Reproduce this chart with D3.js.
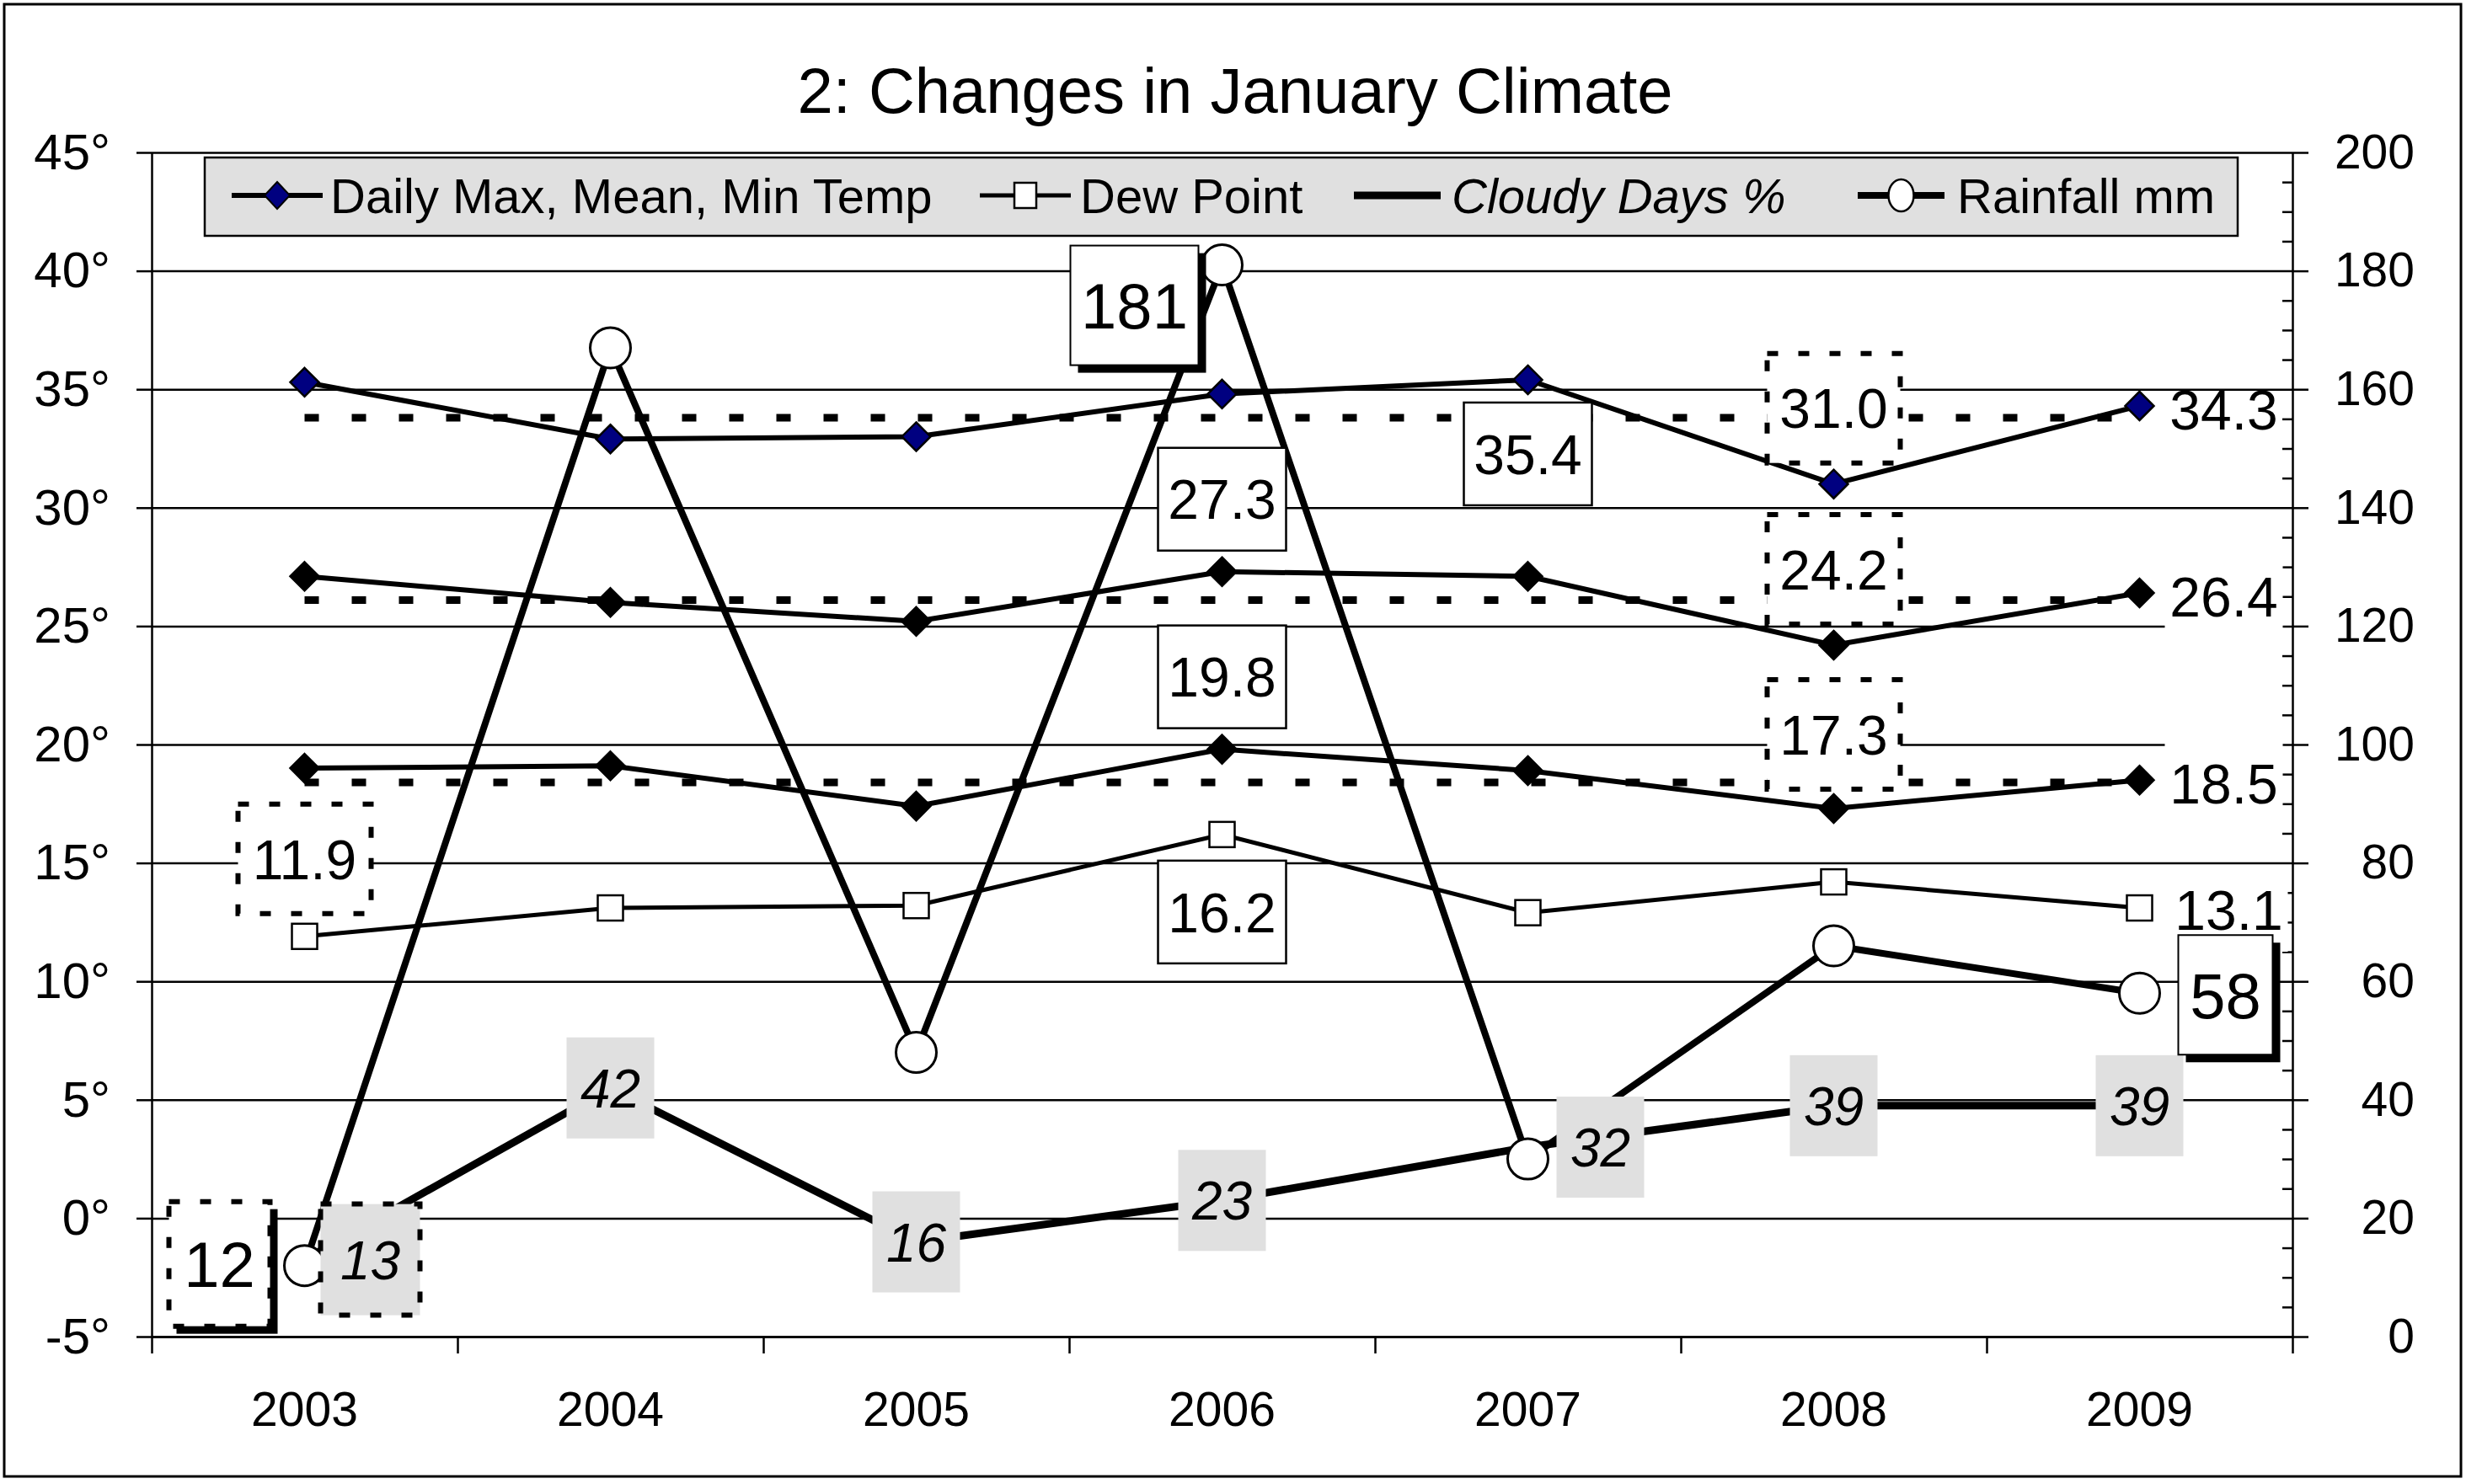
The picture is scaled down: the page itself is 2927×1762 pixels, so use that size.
<!DOCTYPE html>
<html><head><meta charset="utf-8">
<script src="https://cdn.jsdelivr.net/npm/d3@7"></script>
<style>
body{margin:0;background:#fff}
svg{display:block}
text{font-family:"Liberation Sans",Arial,Helvetica,sans-serif}
</style>
</head><body>
<svg id="c" width="2927" height="1762"></svg>
<script>
// ---------------- DATA ----------------
const years = ["2003","2004","2005","2006","2007","2008","2009"];
const maxTemp  = [35.3, 32.9, 33.0, 34.8, 35.4, 31.0, 34.3];
const meanTemp = [27.1, 26.0, 25.2, 27.3, 27.1, 24.2, 26.4];
const minTemp  = [19.0, 19.1, 17.4, 19.8, 18.9, 17.3, 18.5];
const dewPoint = [11.9, 13.1, 13.2, 16.2, 12.9, 14.2, 13.1];
const cloudyDays = [13, 42, 16, 23, 32, 39, 39];
const rainfall   = [12, 167, 48, 181, 30, 66, 58];
const avgMax  = [33.8, 33.8, 33.8, 33.8, 33.8, 33.8, 33.8];
const avgMean = [26.1, 26.1, 26.1, 26.1, 26.1, 26.1, 26.1];
const avgMin  = [18.4, 18.4, 18.4, 18.4, 18.4, 18.4, 18.4];
const leftTicks  = [-5, 0, 5, 10, 15, 20, 25, 30, 35, 40, 45];
const rightTicks = [0, 20, 40, 60, 80, 100, 120, 140, 160, 180, 200];
const rightMinor = [5,10,15,25,30,35,45,50,55,65,70,75,85,90,95,105,110,115,125,130,135,145,150,155,165,170,175,185,190,195];
const titleText = "2: Changes in January Climate";
const legendNames = ["Daily Max, Mean, Min Temp", "Dew Point", "Cloudy Days %", "Rainfall mm"];

// ---------------- LAYOUT ----------------
const FONT = '"Liberation Sans",Arial,Helvetica,sans-serif';
const svg = d3.select("#c");
const P = {left:180, right:2721, top:181, bottom:1587};
const x = d3.scaleBand().domain(years).range([P.left, P.right]);
const cx = i => x(years[i]) + x.bandwidth()/2;
const yL = d3.scaleLinear().domain([-5,45]).range([P.bottom, P.top]);
const yR = d3.scaleLinear().domain([0,200]).range([P.bottom, P.top]);
const xEdge = d3.scaleLinear().domain([0, years.length]).range([P.left, P.right]);

// frame
svg.append("rect").attr("x",5).attr("y",5).attr("width",2916).attr("height",1748)
  .attr("fill","#fff").attr("stroke","#000").attr("stroke-width",3);

// title
svg.append("text").attr("x",1466).attr("y",134).attr("text-anchor","middle")
  .attr("font-size",76).attr("font-family",FONT).text(titleText);

// gridlines
const grid = svg.append("g").attr("transform",`translate(${P.left},0)`)
  .call(d3.axisLeft(yL).tickValues(leftTicks).tickSize(-(P.right-P.left)).tickFormat(""));
grid.select(".domain").remove();
grid.selectAll("line").attr("stroke","#000").attr("stroke-width",2.5);

// left axis
const la = svg.append("g").attr("transform",`translate(${P.left},0)`)
  .call(d3.axisLeft(yL).tickValues(leftTicks).tickSize(18).tickSizeOuter(0).tickPadding(31).tickFormat(d=>d+"°"));
la.selectAll("line,path").attr("stroke","#000").attr("stroke-width",2.5);
la.selectAll("text").attr("font-size",60).attr("font-family",FONT).attr("fill","#000");

// right axis
const ra = svg.append("g").attr("transform",`translate(${P.right},0)`)
  .call(d3.axisRight(yR).tickValues(rightTicks).tickSize(19).tickSizeOuter(0).tickFormat(d3.format("d")));
ra.selectAll("line,path").attr("stroke","#000").attr("stroke-width",2.5);
ra.selectAll("text").attr("font-size",57).attr("font-family",FONT).attr("fill","#000")
  .attr("text-anchor","end").attr("x",145);
const rm = svg.append("g").attr("transform",`translate(${P.right},0)`)
  .call(d3.axisLeft(yR).tickValues(rightMinor).tickSize(12).tickFormat(""));
rm.select(".domain").remove();
rm.selectAll("line").attr("stroke","#000").attr("stroke-width",2.5);

// bottom axis
const bt = svg.append("g").attr("transform",`translate(0,${P.bottom})`)
  .call(d3.axisBottom(xEdge).tickValues(d3.range(years.length+1)).tickSize(20).tickSizeOuter(0).tickFormat(""));
bt.selectAll("line,path").attr("stroke","#000").attr("stroke-width",2.5);
const bl = svg.append("g").attr("transform",`translate(0,${P.bottom})`)
  .call(d3.axisBottom(x).tickSize(0));
bl.select(".domain").remove();
bl.selectAll("text").attr("font-size",57).attr("font-family",FONT).attr("fill","#000")
  .attr("y",106).attr("dy",0);

// ---------------- SERIES ----------------
const lineL = d3.line().x((d,i)=>cx(i)).y(d=>yL(d));
const lineR = d3.line().x((d,i)=>cx(i)).y(d=>yR(d));
const g = svg.append("g");

[avgMax, avgMean, avgMin].forEach(a=>{
  g.append("path").attr("d",lineL(a)).attr("fill","none").attr("stroke","#000")
   .attr("stroke-width",9).attr("stroke-dasharray","17 39");
});

function diamonds(vals, fill, r){
  g.selectAll(null).data(vals).join("path")
   .attr("d",(d,i)=>{const X=cx(i),Y=yL(d);return `M${X},${Y-r}L${X+r},${Y}L${X},${Y+r}L${X-r},${Y}Z`;})
   .attr("fill",fill).attr("stroke","#000").attr("stroke-width",2.5);
}
[maxTemp, meanTemp, minTemp].forEach(s=>{
  g.append("path").attr("d",lineL(s)).attr("fill","none").attr("stroke","#000").attr("stroke-width",6);
});
g.append("path").attr("d",lineL(dewPoint)).attr("fill","none").attr("stroke","#000").attr("stroke-width",5);
g.append("path").attr("d",lineR(cloudyDays)).attr("fill","none").attr("stroke","#000").attr("stroke-width",9);
g.append("path").attr("d",lineR(rainfall)).attr("fill","none").attr("stroke","#000").attr("stroke-width",8);

diamonds(maxTemp, "#000080", 17);
diamonds(meanTemp, "#000", 17);
diamonds(minTemp, "#000", 17);
g.selectAll(null).data(dewPoint).join("rect")
  .attr("x",(d,i)=>cx(i)-15).attr("y",d=>yL(d)-15).attr("width",30).attr("height",30)
  .attr("fill","#fff").attr("stroke","#000").attr("stroke-width",2.5);
g.selectAll(null).data(rainfall).join("circle")
  .attr("cx",(d,i)=>cx(i)).attr("cy",d=>yR(d)).attr("r",24)
  .attr("fill","#fff").attr("stroke","#000").attr("stroke-width",3);

// ---------------- LABELS ----------------
const styles = {
  solid:  {w:152,h:122,fs:66,fill:"#fff",stroke:"#000",sw:2.5,dash:null},
  dashed: {w:158,h:130,fs:66,fill:"#fff",stroke:"#000",sw:6,dash:"13 24"},
  plain:  {w:140,h:100,fs:66,fill:"#fff",stroke:"none",sw:0,dash:null},
  none:   {w:0,h:0,fs:66,fill:"none",stroke:"none",sw:0,dash:null},
  cloud:  {w:104,h:120,fs:64,fill:"#e0e0e0",stroke:"none",sw:0,dash:null,italic:true},
  cloudD: {w:118,h:132,fs:64,fill:"#e0e0e0",stroke:"#000",sw:6,dash:"13 24",italic:true},
  rainS:  {w:152,h:142,fs:76,fill:"#fff",stroke:"#000",sw:2,dash:null,shadow:true},
  rainN:  {w:112,h:142,fs:76,fill:"#fff",stroke:"#000",sw:2,dash:null,shadow:true},
  rainD:  {w:120,h:148,fs:76,fill:"#fff",stroke:"#000",sw:6,dash:"13 24",shadow:true}
};
const series = {max:maxTemp, mean:meanTemp, min:minTemp, dew:dewPoint, cloud:cloudyDays, rain:rainfall};
const labelSpecs = [
  {s:"max",i:4,dx:0,dy:88,st:"solid"},
  {s:"max",i:5,dx:0,dy:-90,st:"dashed"},
  {s:"max",i:6,dx:100,dy:4,st:"none"},
  {s:"mean",i:3,dx:0,dy:-86,st:"solid"},
  {s:"mean",i:5,dx:0,dy:-90,st:"dashed"},
  {s:"mean",i:6,dx:100,dy:4,st:"plain"},
  {s:"min",i:3,dx:0,dy:-86,st:"solid"},
  {s:"min",i:5,dx:0,dy:-88,st:"dashed"},
  {s:"min",i:6,dx:100,dy:4,st:"plain"},
  {s:"dew",i:0,dx:0,dy:-92,st:"dashed"},
  {s:"dew",i:3,dx:0,dy:92,st:"solid"},
  {s:"dew",i:6,dx:106,dy:2,st:"plain"},
  {s:"cloud",i:0,dx:78,dy:0,st:"cloudD"},
  {s:"cloud",i:1,dx:0,dy:0,st:"cloud"},
  {s:"cloud",i:2,dx:0,dy:0,st:"cloud"},
  {s:"cloud",i:3,dx:0,dy:0,st:"cloud"},
  {s:"cloud",i:4,dx:86,dy:0,st:"cloud"},
  {s:"cloud",i:5,dx:0,dy:0,st:"cloud"},
  {s:"cloud",i:6,dx:0,dy:0,st:"cloud"},
  {s:"rain",i:0,dx:-101,dy:-2,st:"rainD"},
  {s:"rain",i:3,dx:-104,dy:48,st:"rainS"},
  {s:"rain",i:6,dx:102,dy:2,st:"rainN"}
];
const lg = svg.append("g");
labelSpecs.forEach(L=>{
  const st = styles[L.st];
  const v = series[L.s][L.i];
  const isR = (L.s==="cloud"||L.s==="rain");
  const px = cx(L.i), py = isR ? yR(v) : yL(v);
  const X = px + L.dx, Y = py + L.dy;
  if (st.shadow) {
    lg.append("rect").attr("x",X-st.w/2+9).attr("y",Y-st.h/2+9).attr("width",st.w).attr("height",st.h).attr("fill","#000");
  }
  if (st.w>0) {
    const r = lg.append("rect").attr("x",X-st.w/2).attr("y",Y-st.h/2).attr("width",st.w).attr("height",st.h)
      .attr("fill",st.fill).attr("stroke",st.stroke).attr("stroke-width",st.sw);
    if (st.dash) r.attr("stroke-dasharray",st.dash);
  }
  const txt = isR ? d3.format("d")(v) : d3.format(".1f")(v);
  lg.append("text").attr("x",X).attr("y",Y).attr("dy","0.36em").attr("text-anchor","middle")
    .attr("font-size",st.fs).attr("font-family",FONT).attr("font-style",st.italic?"italic":"normal").text(txt);
});

// ---------------- LEGEND ----------------
const leg = svg.append("g");
leg.append("rect").attr("x",243).attr("y",187).attr("width",2413).attr("height",93)
  .attr("fill","#e0e0e0").attr("stroke","#000").attr("stroke-width",2.5);
const ly = 232;
const legItems = [
  {x0:275,x1:383,type:"diamond",tx:392,lw:6},
  {x0:1163,x1:1271,type:"square",tx:1282,lw:5},
  {x0:1607,x1:1710,type:"none",tx:1723,lw:9,italic:true},
  {x0:2205,x1:2308,type:"circle",tx:2323,lw:8}
];
legItems.forEach((it,k)=>{
  leg.append("line").attr("x1",it.x0).attr("x2",it.x1).attr("y1",ly).attr("y2",ly).attr("stroke","#000").attr("stroke-width",it.lw);
  const m = (it.x0+it.x1)/2;
  if (it.type==="diamond") leg.append("path").attr("d",`M${m},${ly-16}L${m+15},${ly}L${m},${ly+16}L${m-15},${ly}Z`).attr("fill","#000080").attr("stroke","#000").attr("stroke-width",2);
  if (it.type==="square") leg.append("rect").attr("x",m-13).attr("y",ly-15).attr("width",26).attr("height",30).attr("fill","#fff").attr("stroke","#000").attr("stroke-width",2.5);
  if (it.type==="circle") leg.append("ellipse").attr("cx",m).attr("cy",ly).attr("rx",15).attr("ry",19).attr("fill","#fff").attr("stroke","#000").attr("stroke-width",2.5);
  leg.append("text").attr("x",it.tx).attr("y",ly).attr("dy","0.36em").attr("font-size",58).attr("font-family",FONT)
    .attr("font-style",it.italic?"italic":"normal").text(legendNames[k]);
});
</script>
</body></html>
